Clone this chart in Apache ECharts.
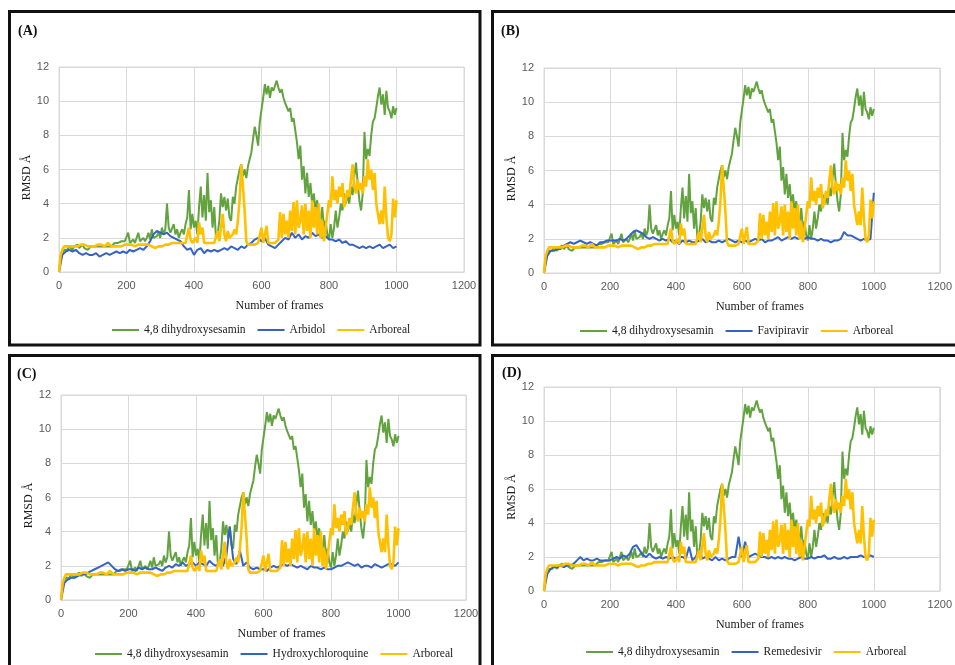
<!DOCTYPE html>
<html>
<head>
<meta charset="utf-8">
<script src="https://cdn.jsdelivr.net/npm/echarts@6/dist/echarts.min.js"></script>
<style>
html,body{margin:0;padding:0;background:#fff;}
#chart{width:955px;height:665px;}
</style>
</head>
<body>
<div id="chart"></div>
<script>
// ---- data ----
const xTicks = [0, 200, 400, 600, 800, 1000, 1200];
const yTicks = [0, 2, 4, 6, 8, 10, 12];
const panelLabels = ['(A)', '(B)', '(C)', '(D)'];
const greenName = '4,8 dihydroxysesamin';
const orangeName = 'Arboreal';
const blueNames = ['Arbidol', 'Favipiravir', 'Hydroxychloroquine', 'Remedesivir'];

// frame numbers: every 5 frames for the two shared series, every 10 for the drug series
const framesFine = Array.from({length: 201}, (_, i) => i * 5);
const framesCoarse = Array.from({length: 101}, (_, i) => i * 10);

// 4,8 dihydroxysesamin (same in all panels), frames 0..1000 step 5
const dihydroxysesamin = [
0.0,0.9,1.1,1.3,1.4,1.3,1.5,1.4,1.3,1.5,
1.4,1.6,1.4,1.5,1.6,1.4,1.5,1.3,1.4,1.5,
1.4,1.5,1.6,1.5,1.6,1.5,1.6,1.5,1.6,1.5,
1.6,1.5,1.6,1.7,1.6,1.7,1.6,1.8,1.7,1.8,
1.7,2.3,1.7,1.8,1.9,1.7,1.8,2.3,1.8,1.9,
2.0,1.8,2.0,2.3,1.9,2.5,2.0,1.9,2.1,2.3,
2.0,2.6,2.2,2.5,4.0,2.6,2.3,2.2,2.8,2.2,
2.5,2.0,2.3,2.5,2.2,2.8,3.2,4.8,2.5,3.4,
2.6,3.0,2.2,3.8,5.0,3.2,4.5,3.0,5.8,3.5,
4.2,2.6,3.8,2.0,2.2,3.0,4.6,3.8,4.4,3.6,
4.3,3.2,3.0,4.4,4.0,5.0,5.5,6.0,6.3,5.6,
6.0,5.5,6.2,6.6,7.0,7.8,8.5,8.0,7.4,8.8,
9.5,10.2,11.0,10.4,10.9,10.2,10.8,10.6,10.9,11.2,
10.8,10.5,10.7,10.2,9.9,10.0,9.4,9.6,8.8,9.0,
8.3,7.6,6.6,7.4,5.4,6.2,4.6,5.8,4.4,5.2,
4.0,4.6,3.6,4.2,3.4,3.0,3.8,2.6,3.0,2.2,
1.9,2.8,2.0,2.6,3.6,2.6,3.2,4.0,3.6,4.6,
4.0,4.5,4.0,5.0,4.5,5.6,6.4,5.2,4.2,3.6,
4.6,8.2,6.6,7.2,6.8,8.0,8.8,9.0,9.6,10.3,
10.8,9.8,10.4,9.2,10.6,9.6,9.4,9.0,9.7,9.2,
9.6
];

// Arboreal (same in all panels), frames 0..1000 step 5
const arboreal = [
0.0,1.0,1.3,1.5,1.4,1.5,1.6,1.5,1.6,1.5,
1.6,1.5,1.5,1.6,1.5,1.6,1.5,1.5,1.6,1.5,
1.6,1.5,1.5,1.6,1.5,1.6,1.6,1.5,1.6,1.7,
1.6,1.5,1.6,1.5,1.6,1.5,1.6,1.5,1.5,1.6,
1.5,1.6,1.5,1.6,1.6,1.5,1.6,1.6,1.5,1.6,
1.7,1.6,1.7,1.6,1.7,1.5,1.5,1.4,1.5,1.5,
1.4,1.5,1.5,1.6,1.5,1.6,1.6,1.7,1.6,1.7,
1.6,1.7,1.6,1.7,1.6,1.7,1.6,2.6,1.9,1.7,
1.6,2.0,1.7,2.9,2.2,2.6,1.7,1.6,1.7,1.6,
1.7,1.6,1.7,1.8,2.4,1.8,1.9,3.4,2.2,1.8,
2.4,2.0,1.9,2.2,2.5,2.2,3.0,4.2,6.3,5.0,
3.6,1.8,1.6,1.7,1.6,1.7,1.6,1.5,1.7,1.6,
2.6,1.7,1.6,2.7,1.7,1.6,1.7,1.8,1.7,1.8,
1.9,3.5,2.0,3.4,2.2,3.0,2.0,3.6,2.4,4.1,
2.2,4.2,2.6,3.0,3.9,2.2,4.0,2.4,3.6,2.0,
4.2,2.6,3.8,2.2,4.0,2.0,3.0,1.8,2.6,3.4,
4.2,3.8,5.6,4.2,4.8,4.0,5.0,4.4,5.2,3.8,
4.2,4.8,4.4,5.4,6.3,5.0,4.6,5.4,4.8,5.2,
4.6,5.6,5.0,6.6,5.4,6.0,4.8,5.8,4.0,3.4,
2.8,3.6,2.8,5.0,3.2,2.0,1.8,2.2,4.3,3.2,
4.2
];

// drug series, frames 0..1000 step 10
const arbidol = [
0,1.0,1.2,1.3,1.2,1.3,1.1,1.0,1.1,1.0,
1.0,1.1,0.9,1.0,1.1,1.0,1.1,1.2,1.1,1.2,
1.1,1.3,1.2,1.3,1.4,1.3,1.5,1.8,2.2,2.4,
2.3,2.2,2.3,2.1,2.0,1.9,1.8,1.5,1.3,1.4,
1.0,1.3,1.4,1.1,1.3,1.2,1.3,1.2,1.3,1.4,
1.3,1.5,1.4,1.3,1.5,1.4,1.6,1.7,1.9,2.0,
1.8,2.0,1.6,1.5,1.4,1.6,1.8,2.0,1.9,2.3,
2.0,2.2,1.9,2.1,2.0,2.3,2.1,2.2,2.0,2.1,
1.9,1.9,1.8,1.9,1.7,1.8,1.6,1.6,1.5,1.4,
1.5,1.4,1.5,1.4,1.5,1.6,1.4,1.5,1.6,1.4,
1.5
];
const favipiravir = [
0,1.0,1.3,1.3,1.4,1.4,1.6,1.7,1.8,1.7,
1.8,1.9,1.8,1.7,1.8,1.7,1.6,1.8,1.8,1.9,
1.9,1.9,1.9,2.0,1.9,2.0,2.2,2.4,2.5,2.4,
2.3,2.1,2.0,2.1,2.0,1.9,2.0,1.9,2.0,1.8,
1.9,1.7,1.9,1.8,1.9,1.8,1.8,1.9,2.0,1.8,
1.9,1.8,1.8,1.9,1.8,1.9,2.0,1.9,1.8,1.9,
1.8,1.9,1.8,1.9,2.0,1.9,2.0,1.8,1.9,1.9,
2.0,2.1,1.9,2.0,2.1,2.0,2.1,2.0,2.1,2.0,
2.1,2.0,2.0,1.9,2.0,1.9,1.9,1.8,1.9,1.9,
2.0,2.4,2.2,2.2,2.1,2.0,1.9,2.0,1.9,2.0,
4.7
];
const hydroxychloroquine = [
0,1.0,1.2,1.3,1.3,1.4,1.5,1.5,1.6,1.7,
1.8,1.9,2.0,2.1,2.2,2.0,1.8,1.7,1.8,1.7,
1.8,1.8,1.7,1.9,1.8,1.9,1.8,1.8,1.9,1.8,
1.7,1.9,2.0,1.9,2.1,2.0,2.2,2.0,2.1,2.2,
2.0,2.2,2.1,2.0,2.3,2.1,2.0,2.2,2.0,2.6,
4.3,2.4,2.1,2.9,2.0,2.2,1.9,1.8,1.9,1.8,
1.8,1.7,1.9,2.0,1.9,2.0,2.1,2.0,2.1,2.0,
1.9,2.0,1.9,1.8,2.0,1.9,1.9,1.8,1.9,1.8,
1.8,1.9,2.0,2.0,2.1,2.2,2.1,2.0,2.1,1.9,
2.0,2.0,1.9,2.1,2.0,1.9,2.0,2.1,2.1,2.0,
2.2
];
const remedesivir = [
0,1.0,1.3,1.4,1.4,1.5,1.4,1.5,1.5,1.6,
1.8,2.0,1.8,1.9,1.8,1.8,1.9,1.8,1.8,1.8,
1.8,1.9,2.0,1.9,2.1,2.0,2.2,2.6,2.7,2.4,
2.1,2.0,2.2,2.0,1.9,2.0,1.9,2.0,1.9,2.0,
1.9,2.0,2.0,1.9,2.6,1.8,2.0,2.4,1.9,2.0,
1.9,1.8,2.0,1.8,1.9,1.8,1.9,2.0,2.0,3.2,
2.0,2.9,2.0,2.1,2.2,2.1,2.0,2.0,1.9,2.0,
1.9,2.0,1.9,2.0,1.9,1.9,1.8,1.9,2.0,1.9,
1.9,2.0,1.9,2.0,2.0,2.1,1.9,1.9,2.0,1.9,
1.9,2.0,1.9,2.0,2.0,2.0,2.1,2.0,2.0,2.1,
2.0
];
const blueData = [arbidol, favipiravir, hydroxychloroquine, remedesivir];

// ---- layout / style ----
const colGreen = '#62a33f', colBlue = '#3563c4', colGold = '#ffc000';
const serif = '"Liberation Serif", "DejaVu Serif", serif';
const sans = '"Liberation Sans", Arial, sans-serif';
const panels = [
  {grid:{left:59, top:67, width:405, height:205}, label:[18,31], legend:[112,324], border:[9.5,11.5,470.5,333.5]},
  {grid:{left:544, top:68, width:405, height:205}, label:[501,31], legend:[580,325], border:[492.5,11.5,470,333.5]},
  {grid:{left:61, top:395, width:405, height:205}, label:[17,374], legend:[95,648], border:[9.5,355.5,470.5,330]},
  {grid:{left:544, top:387, width:405, height:204}, label:[502,373], legend:[586,646], border:[492.5,355.5,470,330]}
];

const pair = (xs, ys) => xs.map((x, i) => [x, ys[i]]);

const option = {
  animation: false,
  backgroundColor: '#ffffff',
  grid: [], xAxis: [], yAxis: [], legend: [], series: [], graphic: []
};

panels.forEach((p, i) => {
  option.grid.push(Object.assign({show: true, borderColor: '#d9d9d9', borderWidth: 1, backgroundColor: '#fff'}, p.grid));
  option.xAxis.push({
    type: 'value', gridIndex: i, min: xTicks[0], max: xTicks[xTicks.length - 1], interval: xTicks[1] - xTicks[0],
    name: 'Number of frames', nameLocation: 'middle', nameGap: 28,
    nameTextStyle: {fontFamily: serif, fontSize: 12, color: '#1a1a1a', padding: [0, 0, 0, 36]},
    axisLine: {show: true, lineStyle: {color: '#d9d9d9'}}, axisTick: {show: false},
    axisLabel: {fontFamily: sans, fontSize: 11, color: '#595959', margin: 8, showMaxLabel: true, hideOverlap: false,
      formatter: v => String(v)},
    splitLine: {show: true, lineStyle: {color: '#d9d9d9'}}
  });
  option.yAxis.push({
    type: 'value', gridIndex: i, min: yTicks[0], max: yTicks[yTicks.length - 1], interval: yTicks[1] - yTicks[0],
    name: 'RMSD Å', nameLocation: 'middle', nameGap: 26, nameRotate: 90,
    nameTextStyle: {fontFamily: serif, fontSize: 12, color: '#1a1a1a', padding: [0, 16, 0, 0]},
    axisLine: {show: false}, axisTick: {show: false},
    axisLabel: {fontFamily: sans, fontSize: 11, color: '#595959', margin: 10, formatter: v => String(v)},
    splitLine: {show: true, lineStyle: {color: '#d9d9d9'}}
  });
  option.legend.push({
    left: p.legend[0], top: p.legend[1], padding: 0, itemGap: 12, itemWidth: 27, itemHeight: 2, icon: 'rect',
    data: [greenName, blueNames[i], orangeName],
    textStyle: {fontFamily: serif, fontSize: 11.5, color: '#1a1a1a'}
  });
  const common = {type: 'line', xAxisIndex: i, yAxisIndex: i, symbol: 'none', showSymbol: false, silent: true};
  option.series.push(Object.assign({}, common, {name: greenName, data: pair(framesFine, dihydroxysesamin), color: colGreen, lineStyle: {width: 2, color: colGreen}}));
  option.series.push(Object.assign({}, common, {name: blueNames[i], data: pair(framesCoarse, blueData[i]), color: colBlue, lineStyle: {width: 2, color: colBlue}}));
  option.series.push(Object.assign({}, common, {name: orangeName, data: pair(framesFine, arboreal), color: colGold, lineStyle: {width: 2.6, color: colGold}}));
  option.graphic.push({type: 'rect', z: 100, silent: true,
    shape: {x: p.border[0], y: p.border[1], width: p.border[2], height: p.border[3]},
    style: {fill: 'none', stroke: '#111', lineWidth: 3}});
  option.graphic.push({type: 'text', z: 100, x: p.label[0], y: p.label[1],
    style: {text: panelLabels[i], font: 'bold 14px ' + serif, fill: '#111', verticalAlign: 'middle'}});
});

const chart = echarts.init(document.getElementById('chart'), null, {renderer: 'canvas'});
chart.setOption(option);
</script>
</body>
</html>
